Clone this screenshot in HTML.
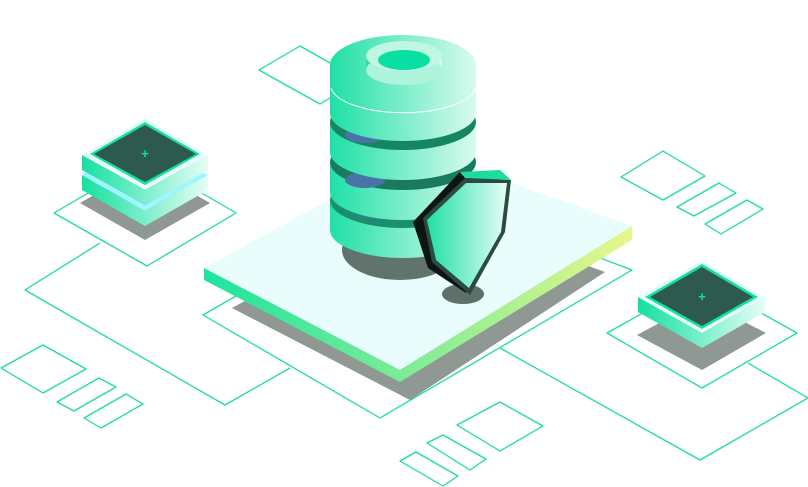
<!DOCTYPE html>
<html><head><meta charset="utf-8"><style>
html,body{margin:0;padding:0;background:#fff;width:808px;height:487px;overflow:hidden}
svg{display:block}
</style></head><body>
<svg width="808" height="487" viewBox="0 0 808 487" xmlns="http://www.w3.org/2000/svg">
<defs>
<linearGradient id="side" x1="0" x2="1"><stop offset="0" stop-color="#1de3a0"/><stop offset="1" stop-color="#e8f78a"/></linearGradient>
<linearGradient id="disk" x1="0" x2="1"><stop offset="0" stop-color="#1fe0a6"/><stop offset="1" stop-color="#d9fbef"/></linearGradient>
<linearGradient id="shield" x1="0" x2="1"><stop offset="0" stop-color="#1fe0a6"/><stop offset="1" stop-color="#e6fdf5"/></linearGradient>
<linearGradient id="chip" x1="0" x2="1"><stop offset="0" stop-color="#14e0a0"/><stop offset="1" stop-color="#e6fdf7"/></linearGradient>
</defs>
<g fill="none" stroke="#1ddc9e" stroke-width="1.3" stroke-linejoin="round">
<polygon points="259,70 300,46 360,80 320,104"/>
<polygon points="54,213 145,160 236,213 147,266"/>
<polyline points="100,243 25,290 225,405 290,368"/>
<polygon points="203,315 420,190 632,270 380,418"/>
<polygon points="621,177 663,151 705,176 663,200"/>
<polygon points="677,207 719,183 736,193 694,216"/>
<polygon points="705,224 747,200 763,209 721,234"/>
<polygon points="1,368 43,345 86,369 43,393"/>
<polygon points="57,402 99,378 116,387 74,411"/>
<polygon points="84,418 126,394 143,404 101,428"/>
<polygon points="457,425 500,402 543,426 500,451"/>
<polygon points="427,443 443,435 486,459 470,470"/>
<polygon points="400,461 416,452 458,476 443,486"/>
<polygon points="607,333 702,280 797,333 702,388"/>
<polyline points="500,348 700,460 808,398 748,363"/>
</g>
<polygon points="232,308 420,205 605,272 410,400" fill="#8f9893"/>
<polygon points="204,268 204,280 400,382 632,240 632,226 400,370" fill="url(#side)"/>
<polygon points="204,268 420,150 632,226 400,370" fill="#e8fdfc"/>
<ellipse cx="400" cy="250" rx="58" ry="30" fill="#62736e"/>
<g>
<rect x="330" y="200" width="146" height="30" fill="url(#disk)"/>
<ellipse cx="403" cy="230" rx="73" ry="28" fill="url(#disk)"/>
<ellipse cx="403" cy="200" rx="73" ry="28" fill="#1a8f6e"/>
<ellipse cx="380" cy="210" rx="25" ry="9" fill="#4a73a8"/>
<ellipse cx="403" cy="198" rx="66" ry="22" fill="#1f9a78"/>
<rect x="330" y="162" width="146" height="30" fill="url(#disk)"/>
<ellipse cx="403" cy="192" rx="73" ry="28" fill="url(#disk)"/>
<ellipse cx="403" cy="162" rx="73" ry="28" fill="#1a7a60"/>
<ellipse cx="365" cy="180" rx="20" ry="8" fill="#4a73a8"/>
<rect x="330" y="122" width="146" height="30" fill="url(#disk)"/>
<ellipse cx="403" cy="152" rx="73" ry="28" fill="url(#disk)"/>
<ellipse cx="403" cy="122" rx="73" ry="28" fill="#168561"/>
<ellipse cx="365" cy="135" rx="20" ry="8" fill="#4a73a8"/>
<rect x="330" y="65" width="146" height="48" fill="url(#disk)"/>
<ellipse cx="403" cy="113" rx="73" ry="28" fill="url(#disk)"/>
<path d="M331,88 A73 28 0 0 0 476,88" fill="none" stroke="#fff" stroke-width="1"/>
<ellipse cx="403" cy="65" rx="73" ry="30" fill="url(#disk)"/>
<rect x="366" y="56" width="76" height="14" fill="url(#disk)"/>
<ellipse cx="404" cy="70" rx="38" ry="15" fill="#aef3da"/>
<ellipse cx="404" cy="56" rx="38" ry="15" fill="#bff7e2"/>
<ellipse cx="404" cy="60" rx="26" ry="10" fill="#07dfa3"/>
</g>
<ellipse cx="463" cy="294" rx="21" ry="10" fill="#5f6f6a"/>
<path d="M413,222 L460,172 L500,176 L496,232 L466,293 L428,268 Z" fill="#0d1512"/>
<path d="M423,218 L465,178 L511,180 L505,232 L470,295 L432,262 Z" fill="#2a4a42"/>
<path d="M427,220 L466,183 L507,183 L501,232 L469,288 L436,260 Z" fill="url(#shield)"/>
<polygon points="460,172 500,170 511,180 465,178" fill="#1ddc9e"/>
<polygon points="80,203 145,240 210,203 145,166" fill="#8f9893"/>
<polygon points="82,175 82,190 145,226 208,190 208,175 145,211" fill="url(#chip)"/>
<polygon points="82,175 145,140 208,175 145,211" fill="#9ff6ff"/>
<polygon points="92,175 145,146 198,175 145,205" fill="#1f6b5c"/>
<polygon points="82,155 82,170 145,205 208,170 208,155 145,190" fill="url(#chip)"/>
<polygon points="82,155 145,118 208,155 145,190" fill="#e6fdfb"/>
<polygon points="90,154 145,122 200,154 145,185" fill="#14e0a0"/>
<polygon points="94,154 145,125 196,154 145,182" fill="#2e5a4e"/>
<text x="145" y="158" font-family="Liberation Sans,sans-serif" font-size="13" font-weight="bold" fill="#14e0a0" text-anchor="middle">+</text>
<polygon points="637,335 702,300 766,333 702,370" fill="#8f9893"/>
<polygon points="638,297 638,312 702,348 765,312 765,297 702,333" fill="url(#chip)"/>
<polygon points="638,297 702,260 765,297 702,333" fill="#e6fdfb"/>
<polygon points="645,297 702,264 758,297 702,329" fill="#14e0a0"/>
<polygon points="650,297 702,267 753,297 702,326" fill="#2e5a4e"/>
<text x="702" y="301" font-family="Liberation Sans,sans-serif" font-size="13" font-weight="bold" fill="#14e0a0" text-anchor="middle">+</text>
</svg>
</body></html>
